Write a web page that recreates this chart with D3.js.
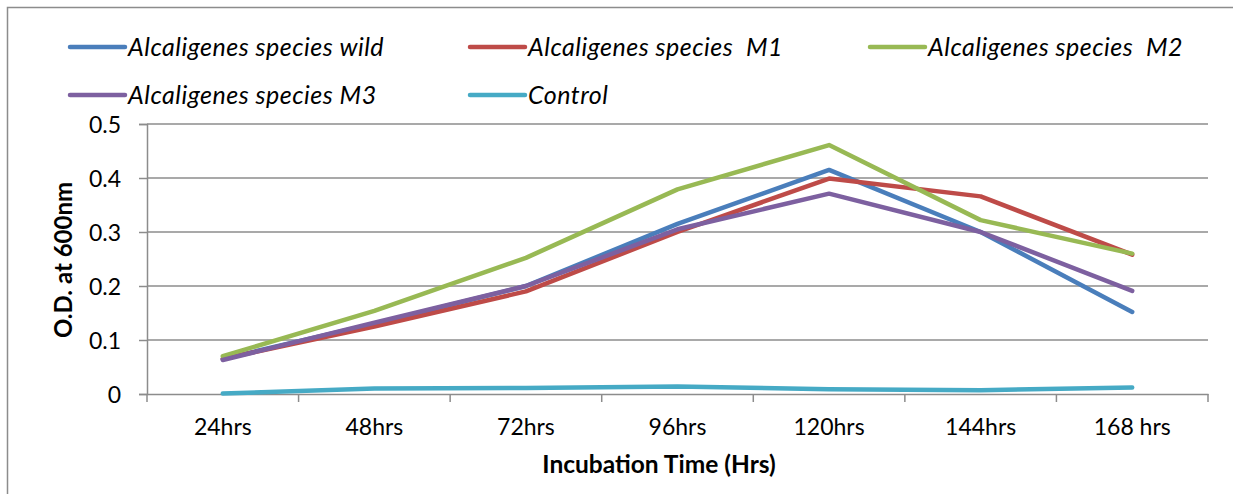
<!DOCTYPE html>
<html>
<head>
<meta charset="utf-8">
<script src="https://cdn.jsdelivr.net/npm/d3@7"></script>
<style>
  body { margin: 0; background: #fff; }
  svg { display: block; }
  text { font-family: Lato, "Open Sans", sans-serif; fill: #000; }
</style>
</head>
<body>
<svg id="chart" width="1233" height="494"></svg>
<script>
var svg = d3.select('#chart')

// incubation times and the O.D. readings for each culture
var times = ["24hrs", "48hrs", "72hrs", "96hrs", "120hrs", "144hrs", "168 hrs"]
var seriesNames = ["Alcaligenes species wild", "Alcaligenes species  M1", "Alcaligenes species  M2",
    "Alcaligenes species M3", "Control"]
var wild = [0.065, 0.13, 0.2, 0.315, 0.415, 0.3, 0.152]
var m1 = [0.065, 0.125, 0.19, 0.3, 0.399, 0.366, 0.258]
var m2 = [0.07, 0.154, 0.252, 0.379, 0.461, 0.322, 0.26]
var m3 = [0.063, 0.132, 0.2, 0.305, 0.371, 0.3, 0.191]
var control = [0.001, 0.01, 0.011, 0.014, 0.009, 0.007, 0.012]
var yTicks = [0, 0.1, 0.2, 0.3, 0.4, 0.5]
var colors = ["#4A7EBB", "#BE4B48", "#98B954", "#7D60A0", "#46AAC5"]

var allSeries = [wild, m1, m2, m3, control]

var plotLeft = 147, plotRight = 1208, plotTop = 124, plotBottom = 394

var x = d3.scaleBand().domain(times).range([plotLeft, plotRight])
var y = d3.scaleLinear().domain([0, 0.5]).range([plotBottom, plotTop])

// outer frame
svg.append('rect')
    .attr('x', 7.5).attr('y', 7.5)
    .attr('width', 1240).attr('height', 500)
    .attr('fill', 'none')
    .attr('stroke', '#8c8c8c')
    .attr('stroke-width', 1.5)

// horizontal gridlines
svg.append('g')
    .selectAll('line')
    .data(yTicks.slice(1))
    .enter()
    .append('line')
    .attr('x1', plotLeft).attr('x2', plotRight)
    .attr('y1', function (d) { return y(d) }).attr('y2', function (d) { return y(d) })
    .attr('stroke', '#8c8c8c')
    .attr('stroke-width', 1.5)

var yAxis = svg.append('g')
    .attr('transform', 'translate(' + plotLeft + ',0)')
    .call(d3.axisLeft(y).tickValues(yTicks).tickSize(8).tickPadding(18)
        .tickFormat(function (d) { return d === 0 ? '0' : d3.format('.1f')(d) }))
yAxis.select('.domain').attr('stroke', '#8c8c8c').attr('stroke-width', 1.5)
yAxis.selectAll('.tick line').attr('stroke', '#8c8c8c').attr('stroke-width', 1.5)
yAxis.selectAll('.tick text').style('font-size', '23px').attr('dy', '0.36em')

var xAxis = svg.append('g')
    .attr('transform', 'translate(0,' + plotBottom + ')')
    .call(d3.axisBottom(x).tickSize(0).tickPadding(25))
xAxis.select('.domain').attr('stroke', '#8c8c8c').attr('stroke-width', 1.5)
xAxis.selectAll('.tick line').remove()
xAxis.selectAll('.tick text').style('font-size', '23px')

// category boundary ticks
var edges = times.map(function (t) { return x(t) }).concat([plotRight])
xAxis.selectAll('.edge')
    .data(edges)
    .enter()
    .append('line')
    .attr('x1', function (d) { return d }).attr('x2', function (d) { return d })
    .attr('y1', 0).attr('y2', 8)
    .attr('stroke', '#8c8c8c')
    .attr('stroke-width', 1.5)

// axis titles
svg.append('text')
    .attr('transform', 'translate(72,260) rotate(-90)')
    .attr('text-anchor', 'middle')
    .style('font-size', '24px')
    .style('font-weight', 'bold')
    .text('O.D. at 600nm')

svg.append('text')
    .attr('x', 659)
    .attr('y', 473)
    .attr('text-anchor', 'middle')
    .style('font-size', '24.5px')
    .style('font-weight', 'bold')
    .text('Incubation Time (Hrs)')

var line = d3.line()
    .x(function (d, i) { return x(times[i]) + x.bandwidth() / 2 })
    .y(function (d) { return y(d) })

svg.append('g')
    .selectAll('path')
    .data(allSeries)
    .enter()
    .append('path')
    .attr('d', line)
    .attr('fill', 'none')
    .attr('stroke', function (d, i) { return colors[i] })
    .attr('stroke-width', 4.5)
    .attr('stroke-linecap', 'round')
    .attr('stroke-linejoin', 'round')

// Legend
var legendPos = [[70, 47], [470, 47], [870, 47], [70, 95], [470, 95]]
var legend = svg.append('g')
    .selectAll('g')
    .data(seriesNames)
    .enter()
    .append('g')
    .attr('transform', function (d, i) { return 'translate(' + legendPos[i][0] + ',' + legendPos[i][1] + ')' })

legend.append('line')
    .attr('x1', 0).attr('x2', 55)
    .attr('stroke', function (d, i) { return colors[i] })
    .attr('stroke-width', 4.5)
    .attr('stroke-linecap', 'round')

legend.append('text')
    .attr('x', 58)
    .attr('dy', '0.35em')
    .style('font-size', '25px')
    .style('letter-spacing', '0.5px')
    .style('font-style', 'italic')
    .style('white-space', 'pre')
    .text(function (d) { return d })
</script>
</body>
</html>
